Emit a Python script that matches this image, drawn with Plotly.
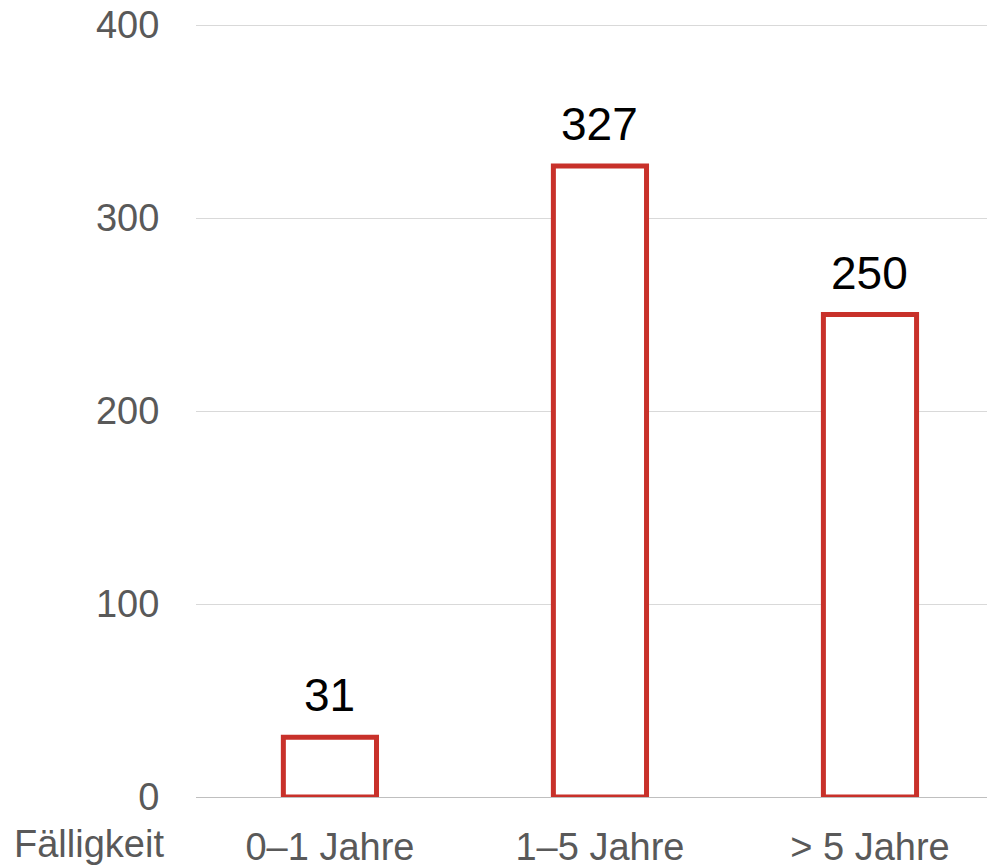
import plotly.graph_objects as go

categories = ["0–1 Jahre", "1–5 Jahre", "> 5 Jahre"]
values = [31, 327, 250]
axis_title = "Fälligkeit"
y_ticks = [0, 100, 200, 300, 400]

positions = list(range(len(categories)))
FONT = "Liberation Sans, Arial, sans-serif"
RED = "#C8312A"
GRAY = "#595959"

fig = go.Figure(
    go.Bar(
        x=positions,
        y=values,
        width=0.345,
        marker=dict(color="white", line=dict(color=RED, width=5)),
        cliponaxis=False,
        hoverinfo="skip",
    )
)

annotations = [
    dict(
        x=p, y=v, xref="x", yref="y", text=str(v),
        xanchor="center", yanchor="bottom", yshift=14, showarrow=False,
        font=dict(family=FONT, size=46, color="black"),
    )
    for p, v in zip(positions, values)
]
annotations.append(
    dict(
        text=axis_title,
        xref="paper",
        yref="paper",
        x=0,
        y=0,
        xanchor="right",
        yanchor="top",
        xshift=-30,
        yshift=-24,
        showarrow=False,
        font=dict(family=FONT, size=38, color=GRAY),
    )
)

fig.update_layout(
    width=995,
    height=868,
    margin=dict(l=188, r=8, t=16, b=79),
    paper_bgcolor="white",
    plot_bgcolor="white",
    showlegend=False,
    font=dict(family=FONT, size=38, color=GRAY),
    xaxis=dict(
        tickmode="array",
        tickvals=positions,
        ticktext=categories,
        range=[-0.496, 2.463],
        showgrid=False,
        zeroline=False,
        showline=False,
        ticks="outside",
        ticklen=16,
        tickcolor="rgba(0,0,0,0)",
        tickfont=dict(family=FONT, size=38, color=GRAY),
        ticklabeloverflow="allow",
        automargin=False,
        fixedrange=True,
    ),
    yaxis=dict(
        range=[0, 400.6],
        tickmode="array",
        tickvals=y_ticks,
        showgrid=True,
        gridcolor="#d9d9d9",
        gridwidth=1,
        zeroline=True,
        zerolinecolor="#bfbfbf",
        zerolinewidth=1,
        showline=False,
        ticks="outside",
        ticklen=28,
        tickcolor="rgba(0,0,0,0)",
        tickfont=dict(family=FONT, size=38, color=GRAY),
        ticklabeloverflow="allow",
        automargin=False,
        fixedrange=True,
    ),
    annotations=annotations,
)

fig.write_html("out.html")
